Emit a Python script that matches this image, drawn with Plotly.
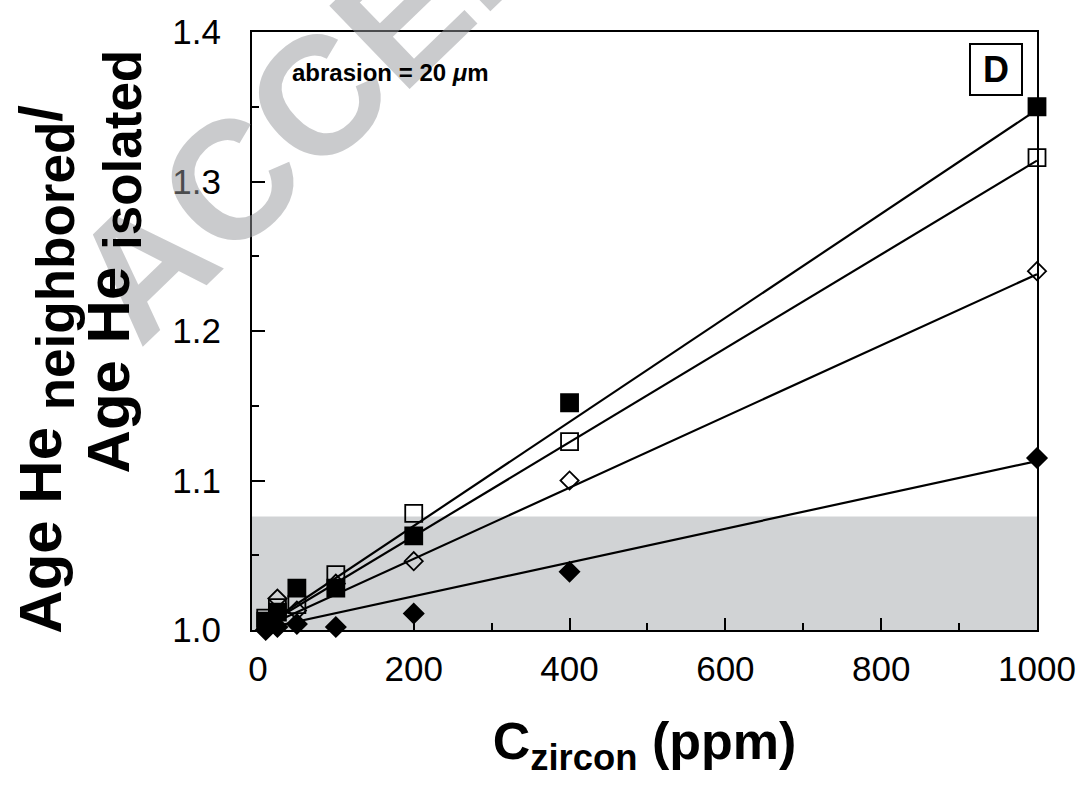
import plotly.graph_objects as go

# ---- data ----
x_ppm = [0, 10, 25, 50, 100, 200, 400, 1000]
filled_square = [0.998, 1.006, 1.012, 1.028, 1.028, 1.063, 1.152, 1.350]
open_square = [0.999, 1.008, 1.015, 1.017, 1.037, 1.078, 1.126, 1.316]
open_diamond = [0.997, 0.998, 1.021, 1.013, 1.031, 1.046, 1.100, 1.240]
filled_diamond = [0.998, 1.000, 1.002, 1.004, 1.002, 1.011, 1.039, 1.115]

# trend lines (ratio = 1 + slope * C)
trend_x = [0, 1000]
trend_slope = [0.000348, 0.000314, 0.000238, 0.000113]

band_y = [1.0, 1.076]
x_ticks = [0, 200, 400, 600, 800, 1000]
y_ticks = [1.0, 1.1, 1.2, 1.3, 1.4]

FONT = "Liberation Sans, Arial, Helvetica, sans-serif"

fig = go.Figure()

series = [
    (filled_square, "square", 17, "black"),
    (open_square, "square-open", 17, "black"),
    (open_diamond, "diamond-open", 14, "black"),
    (filled_diamond, "diamond", 15, "black"),
]

for ys, sym, sz, col in series:
    fig.add_trace(go.Scatter(
        x=x_ppm, y=ys, mode="markers",
        marker=dict(symbol=sym, size=sz, color=col,
                    line=dict(color="black", width=1.8)),
        cliponaxis=False, showlegend=False,
    ))

for s in trend_slope:
    fig.add_trace(go.Scatter(
        x=trend_x, y=[1 + s * v for v in trend_x], mode="lines",
        line=dict(color="black", width=2.2),
        cliponaxis=False, showlegend=False,
    ))

fig.add_shape(type="rect", xref="x domain", x0=0, x1=1, yref="y",
              y0=band_y[0], y1=band_y[1], fillcolor="#d1d3d5",
              line=dict(width=0), layer="below")


def px(xp):
    return (xp - 252) / 794


def py(yp):
    return (630 - yp) / 601


SUB = '<sub><span style="font-size:53px">{}</span></sub>'

annotations = [
    # watermark
    dict(text="<b>ACCEPTED</b>", xref="paper", yref="paper",
         x=px(434), y=py(-16),
         xanchor="center", yanchor="middle", textangle=-44,
         showarrow=False,
         font=dict(family=FONT, size=168, color="rgba(150,152,156,0.5)")),
    # y title, two lines
    dict(text="<b>Age He " + SUB.format("neighbored") + "/</b>",
         xref="paper", yref="paper",
         x=px(44), y=py(368), xanchor="center",
         yanchor="middle", textangle=-90, showarrow=False,
         font=dict(family=FONT, size=60, color="black")),
    dict(text="<b>Age He " + SUB.format("isolated") + "</b>",
         xref="paper", yref="paper",
         x=px(112), y=py(260), xanchor="center",
         yanchor="middle", textangle=-90, showarrow=False,
         font=dict(family=FONT, size=60, color="black")),
    # abrasion label
    dict(text="<b>abrasion = 20 <i>μ</i>m</b>", xref="paper", yref="paper",
         x=px(290), y=py(70), xanchor="left",
         yanchor="middle", showarrow=False,
         font=dict(family=FONT, size=24, color="black")),
    # panel letter
    dict(text="<b>D</b>", xref="paper", yref="paper",
         x=px(1005), y=py(67), xanchor="center",
         yanchor="middle", showarrow=False, width=48, height=47,
         borderpad=1, bordercolor="black", borderwidth=2, bgcolor="white",
         font=dict(family=FONT, size=36, color="black")),
]

fig.update_layout(
    width=1088, height=793,
    margin=dict(l=252, r=42, t=29, b=163),
    paper_bgcolor="white", plot_bgcolor="white",
    font=dict(family=FONT, color="black"),
    annotations=annotations,
    xaxis=dict(
        range=[-7.6, 1000], tickvals=x_ticks,
        ticks="inside", ticklen=12, tickwidth=2, tickcolor="black",
        minor=dict(dtick=100, tick0=0, ticks="inside", ticklen=7,
                   tickwidth=2, tickcolor="black"),
        showline=True, linewidth=2, linecolor="black", mirror=True,
        showgrid=False, zeroline=False,
        tickfont=dict(family=FONT, size=35, color="black"),
        ticklabelstandoff=7,
        title=dict(text="<b>C<sub>zircon</sub> (ppm)</b>",
                   font=dict(family=FONT, size=52, color="black"),
                   standoff=36),
    ),
    yaxis=dict(
        range=[1.0, 1.4], tickvals=y_ticks, tickformat=".1f",
        ticks="inside", ticklen=13, tickwidth=2, tickcolor="black",
        minor=dict(dtick=0.05, tick0=1.0, ticks="inside", ticklen=7,
                   tickwidth=2, tickcolor="black"),
        showline=True, linewidth=2, linecolor="black", mirror=True,
        showgrid=False, zeroline=False,
        tickfont=dict(family=FONT, size=35, color="black"),
        ticklabelstandoff=22,
    ),
)

fig.write_html("out.html")
